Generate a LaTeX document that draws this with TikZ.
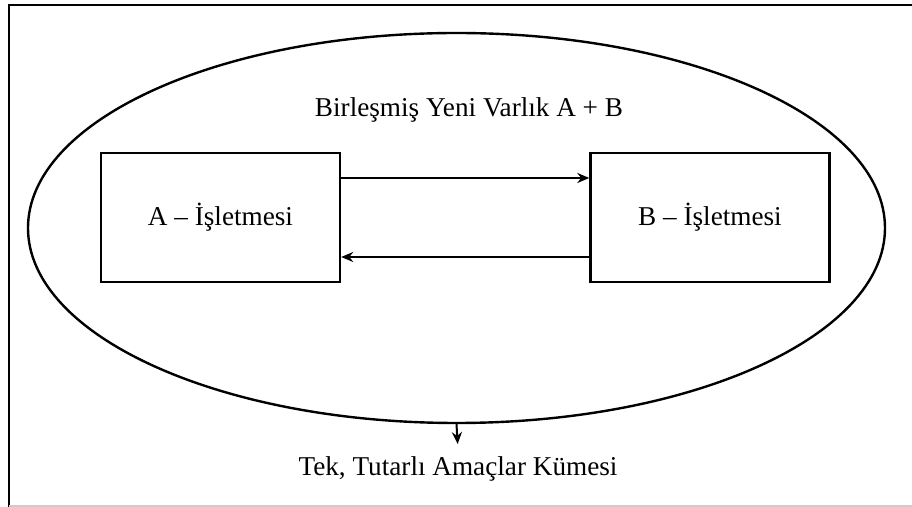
\documentclass[tikz,border=0pt]{standalone}
\usepackage{fontspec}
\setmainfont{Liberation Serif}
\usetikzlibrary{shapes.geometric,arrows.meta}
\begin{document}
\begin{tikzpicture}[x=0.5pt,y=-0.5pt,
    font=\fontsize{13.6}{16}\selectfont,
    firm/.style={draw,line width=1.2pt,minimum width=119.5pt,minimum height=64.5pt,inner sep=0pt},
    flow/.style={-{Stealth[length=6pt,width=5pt]},line width=1pt}]
  \useasboundingbox (0,0) rectangle (912,507);
  % frame
  \draw[line width=1.4pt] (9,507) -- (9,5) -- (912,5);
  \draw[black!20,line width=1pt] (9,506) -- (912,506);
  % merged entity
  \node[ellipse,draw,line width=1.2pt,minimum width=428.5pt,minimum height=195pt,inner sep=0pt] (merged) at (456.5,228) {};
  \node[anchor=base] (title) at (469,117) {Birleşmiş Yeni Varlık A + B};
  \node[firm] (a) at (220.5,217.5) {A – İşletmesi};
  \node[firm] (b) at (710,217.5) {B – İşletmesi};
  \node[anchor=base] (goals) at (458,476) {Tek, Tutarlı Amaçlar Kümesi};
  \draw[flow] ([yshift=19.75pt]a.east) -- ([yshift=19.75pt]b.west);
  \draw[flow] ([yshift=-19.75pt]b.west) -- ([yshift=-19.75pt]a.east);
  \draw[flow,shorten >=3pt] (merged.south) -- (goals.north);
\end{tikzpicture}
\end{document}
